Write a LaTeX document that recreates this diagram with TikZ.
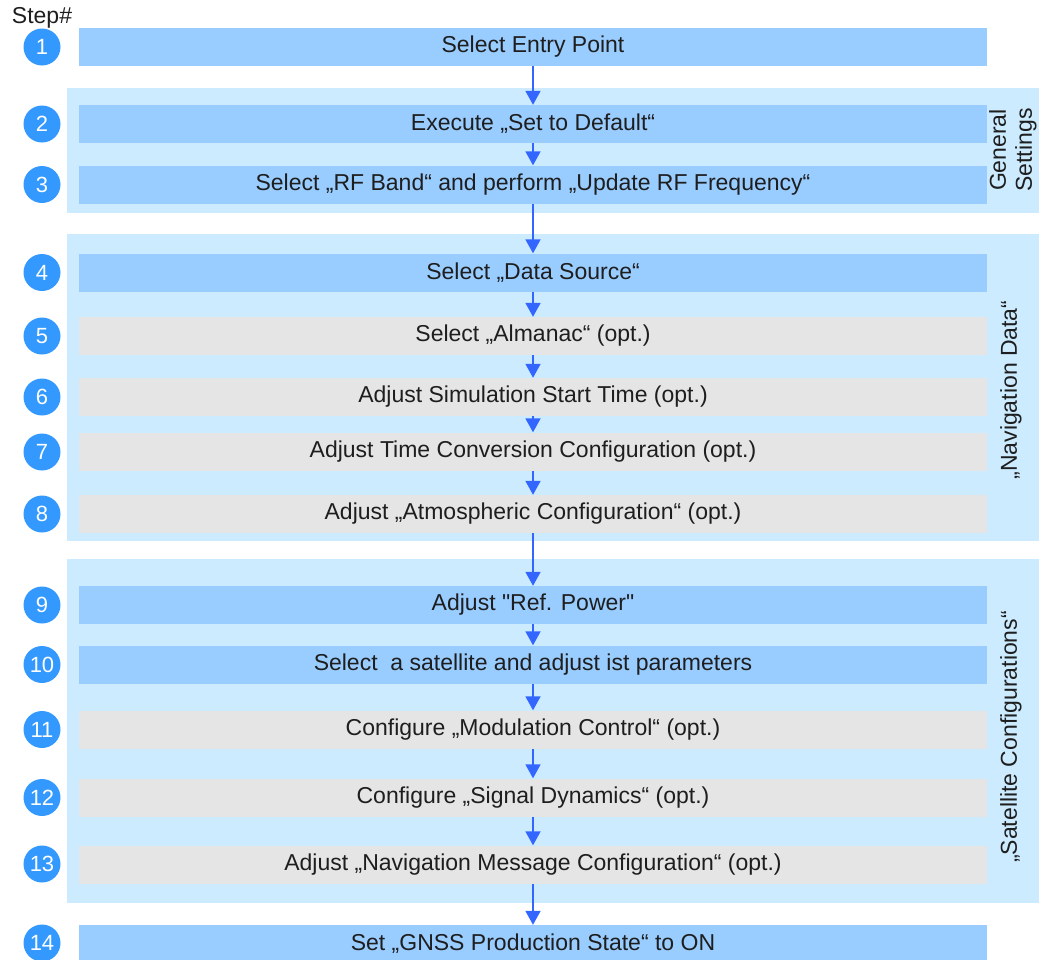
\documentclass[tikz,border=0pt]{standalone}
\usepackage{fontspec}
\setmainfont{Liberation Sans}
\newfontfamily\rawfont{Liberation Sans}[Ligatures=ResetAll]
\newcommand{\dq}{{\rawfont"}}
\usetikzlibrary{arrows.meta}
\definecolor{barblue}{HTML}{99CCFF}
\definecolor{bargray}{HTML}{E5E5E5}
\definecolor{grpblue}{HTML}{CCEBFF}
\definecolor{circblue}{HTML}{3399FF}
\definecolor{arrblue}{HTML}{3366FF}
\definecolor{txt}{HTML}{1E1E1E}
\tikzset{
  bar/.style={rectangle, minimum width=908pt, minimum height=38pt, inner sep=0pt, text=txt, font=\fontsize{23}{27}\selectfont},
  mand/.style={bar, fill=barblue},
  opt/.style={bar, fill=bargray},
  grp/.style={rectangle, fill=grpblue, minimum width=972pt, inner sep=0pt},
  num/.style={circle, fill=circblue, minimum size=37pt, inner sep=0pt, text=white, font=\fontsize{22}{26}\selectfont},
  side/.style={rotate=90, text=txt, align=center, font=\fontsize{23}{26}\selectfont},
  flow/.style={draw=arrblue, line width=1.8pt, -{Triangle[width=15pt,length=14pt]}, shorten >=0pt}
}
\begin{document}
\begin{tikzpicture}[x=1pt,y=-1pt]
\useasboundingbox (0,0) rectangle (1041,959);
% groups
\node[grp, minimum height=125pt] (g1) at (553,150.5) {};
\node[grp, minimum height=307pt] (g2) at (553,387.5) {};
\node[grp, minimum height=344pt] (g3) at (553,731) {};
% header
\node[text=txt, font=\fontsize{23}{27}\selectfont] (hdr) at (42,18) {Step\#};
% bars
\node[mand] (b1) at (533,47) {Select Entry Point};
\node[mand] (b2) at (533,124) {Execute „Set to Default“};
\node[mand] (b3) at (533,184.5) {Select „RF Band“ and perform „Update RF Frequency“};
\node[mand] (b4) at (533,272.5) {Select „Data Source“};
\node[opt] (b5) at (533,336) {Select „Almanac“ (opt.)};
\node[opt] (b6) at (533,397) {Adjust Simulation Start Time (opt.)};
\node[opt] (b7) at (533,451.5) {Adjust Time Conversion Configuration (opt.)};
\node[opt] (b8) at (533,514) {Adjust „Atmospheric Configuration“ (opt.)};
\node[mand] (b9) at (533,605) {Adjust \dq Ref. Power\dq};
\node[mand] (b10) at (533,664.5) {Select\ \ a satellite and adjust ist parameters};
\node[opt] (b11) at (533,729.5) {Configure „Modulation Control“ (opt.)};
\node[opt] (b12) at (533,797.5) {Configure „Signal Dynamics“ (opt.)};
\node[opt] (b13) at (533,864.5) {Adjust „Navigation Message Configuration“ (opt.)};
\node[mand] (b14) at (533,944) {Set „GNSS Production State“ to ON};
% step numbers
\foreach \i/\y in {1/47,2/124,3/184.5,4/272.5,5/336,6/397,7/452,8/514,9/605,10/664.5,11/729.5,12/797.5,13/864,14/943}
  \node[num] (n\i) at (42,\y) {\i};
% arrows
\foreach \a/\b in {1/2,2/3,3/4,4/5,5/6,6/7,7/8,8/9,9/10,10/11,11/12,12/13,13/14}
  \draw[flow] (b\a.south) -- (b\b.north);
% side labels
\node[side] (l1) at (1013,150) {General\\Settings};
\node[side] (l2) at (1011,390) {„Navigation Data“};
\node[side] (l3) at (1011,737) {„Satellite Configurations“};
\end{tikzpicture}
\end{document}
